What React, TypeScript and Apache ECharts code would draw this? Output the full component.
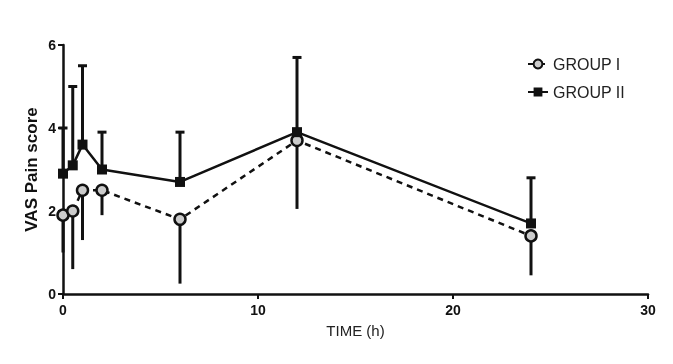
import React, { useEffect, useRef } from "react";
import * as echarts from "echarts";

const times = [0, 0.5, 1, 2, 6, 12, 24];
const group1Mean = [1.9, 2.0, 2.5, 2.5, 1.8, 3.7, 1.4];
const group1Lower = [1.0, 0.6, 1.3, 1.9, 0.25, 2.05, 0.45];
const group2Mean = [2.9, 3.1, 3.6, 3.0, 2.7, 3.9, 1.7];
const group2Upper = [4.0, 5.0, 5.5, 3.9, 3.9, 5.7, 2.8];
const xTicks = [0, 10, 20, 30];
const yTicks = [0, 2, 4, 6];

const FONT = "Liberation Sans, Arial, sans-serif";

export default function App() {
  const ref = useRef<HTMLDivElement>(null);
  useEffect(() => {
    const chart = echarts.init(ref.current!, null, { renderer: "svg" });
    const errRender = (withCap: boolean) => (params: any, api: any) => {
      const x = api.value(0);
      const a = api.coord([x, api.value(1)]);
      const b = api.coord([x, api.value(2)]);
      const children: any[] = [
        {
          type: "line",
          shape: { x1: a[0], y1: a[1], x2: b[0], y2: b[1] },
          style: { stroke: "#111", lineWidth: 3 },
        },
      ];
      if (withCap) {
        children.push({
          type: "line",
          shape: { x1: b[0] - 4.5, y1: b[1], x2: b[0] + 4.5, y2: b[1] },
          style: { stroke: "#111", lineWidth: 3 },
        });
      }
      return { type: "group", children };
    };
    chart.setOption({
      animation: false,
      grid: { left: 63, right: 25, top: 45, bottom: 70 },
      legend: {
        left: 522,
        top: 51,
        orient: "vertical",
        itemWidth: 20,
        itemHeight: 11,
        itemGap: 12,
        textStyle: { fontFamily: FONT, fontSize: 16, color: "#222" },
        data: ["GROUP I", "GROUP II"],
      },
      xAxis: {
        type: "value",
        min: xTicks[0],
        max: xTicks[xTicks.length - 1],
        interval: 10,
        name: "TIME (h)",
        nameLocation: "middle",
        nameGap: 29,
        nameTextStyle: { fontFamily: FONT, fontSize: 15, color: "#222" },
        axisLine: { lineStyle: { color: "#111", width: 2.5 } },
        axisTick: { show: true, length: 5, lineStyle: { color: "#111", width: 2 } },
        axisLabel: { fontFamily: FONT, fontSize: 14, fontWeight: "bold", color: "#111", margin: 9 },
        splitLine: { show: false },
      },
      yAxis: {
        type: "value",
        min: yTicks[0],
        max: yTicks[yTicks.length - 1],
        interval: 2,
        name: "VAS Pain score",
        nameLocation: "middle",
        nameGap: 23,
        nameMoveOverlap: false,
        nameTextStyle: { fontFamily: FONT, fontSize: 17, fontWeight: "bold", color: "#111" },
        axisLine: { show: true, lineStyle: { color: "#111", width: 2.5 } },
        axisTick: { show: true, length: 5, lineStyle: { color: "#111", width: 2 } },
        axisLabel: { fontFamily: FONT, fontSize: 14, fontWeight: "bold", color: "#111", margin: 7 },
        splitLine: { show: false },
      },
      series: [
        {
          type: "custom",
          name: "err1",
          renderItem: errRender(false),
          data: times.map((t, i) => [t, group1Mean[i], group1Lower[i]]),
          encode: { x: 0, y: [1, 2] },
          z: 1,
          silent: true,
        },
        {
          type: "custom",
          name: "err2",
          renderItem: errRender(true),
          data: times.map((t, i) => [t, group2Mean[i], group2Upper[i]]),
          encode: { x: 0, y: [1, 2] },
          z: 1,
          silent: true,
        },
        {
          type: "line",
          name: "GROUP I",
          data: times.map((t, i) => [t, group1Mean[i]]),
          symbol: "circle",
          symbolSize: 11,
          lineStyle: { color: "#111", width: 2.5, type: [6, 5] },
          itemStyle: { color: "#ccc", borderColor: "#111", borderWidth: 2.5 },
          z: 3,
        },
        {
          type: "line",
          name: "GROUP II",
          data: times.map((t, i) => [t, group2Mean[i]]),
          symbol: "rect",
          symbolSize: 10,
          lineStyle: { color: "#111", width: 2.5 },
          itemStyle: { color: "#111" },
          z: 4,
        },
      ],
    });
    return () => chart.dispose();
  }, []);
  return (
    <div
      ref={ref}
      style={{ position: "fixed", left: 0, top: 0, width: 673, height: 364 }}
    />
  );
}
